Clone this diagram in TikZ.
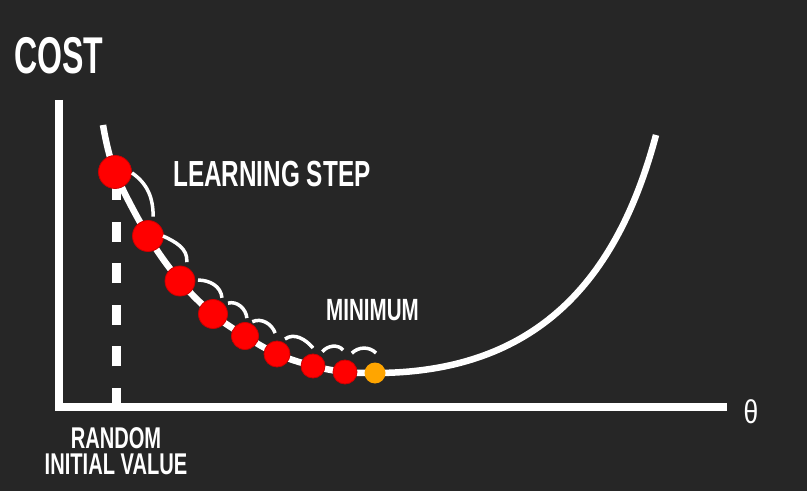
\documentclass[tikz,border=0pt]{standalone}
\usepackage{fontspec}
\usetikzlibrary{calc}
\newfontfamily\labelfont{Liberation Sans}[FakeStretch=0.67]
\newfontfamily\costfont{Liberation Sans}[FakeStretch=0.62]
\newfontfamily\thetafont{Liberation Sans}[FakeStretch=0.8]
\definecolor{boardgray}{RGB}{38,38,38}
\definecolor{stepred}{RGB}{255,0,0}
\definecolor{stepedge}{RGB}{205,0,0}
\definecolor{minorange}{RGB}{255,165,0}
\tikzset{
    axisline/.style={draw=white, line width=8pt},
    costcurve/.style={draw=white, line width=6.5pt},
    initline/.style={draw=white, line width=9pt, dash pattern=on 20pt off 21.6pt},
    stepdot/.style={circle, fill=stepred, draw=stepedge, line width=0.8pt, inner sep=0pt},
    mindot/.style={circle, fill=minorange, inner sep=0pt},
    jump/.style={draw=white, line width=3.5pt},
    caption/.style={text=white, inner sep=0pt, font=\labelfont\bfseries\fontsize{30.7}{30.7}\selectfont}
}

\begin{document}
\begin{tikzpicture}[x=1pt, y=1pt]
    \useasboundingbox (0,0) rectangle (807,491);
    \fill[boardgray] (0,0) rectangle (807,491);

    % axes and the starting guess
    \draw[axisline] (59,391) -- (59,84) -- (727,84);
    \draw[initline] (116.7,83) -- (116.7,311);

    % cost function
    \draw[costcurve] plot[smooth, tension=0.6] coordinates {(103,366) (115,319) (148,255) (180,210) (213,177) (245,155) (277,137) (313,125) (345,119) (375,118)}
        .. controls (545,118) and (620,221) .. (656,356);

    % descent steps
    \node[stepdot, minimum size=33pt] (c1) at (115,319) {};
    \node[stepdot, minimum size=31pt] (c2) at (148,255) {};
    \node[stepdot, minimum size=30pt] (c3) at (180,210) {};
    \node[stepdot, minimum size=29pt] (c4) at (213,177) {};
    \node[stepdot, minimum size=27pt] (c5) at (245,155) {};
    \node[stepdot, minimum size=26pt] (c6) at (277,137) {};
    \node[stepdot, minimum size=24pt] (c7) at (313,125) {};
    \node[stepdot, minimum size=24pt] (c8) at (345,119) {};
    \node[mindot, minimum size=21pt] (cmin) at (375,118) {};

    \draw[jump] ($(c1)+(-3:17)$) to[out=-35, in=90] ($(c2)+(75:20)$);
    \draw[jump] ($(c2)+(0:15)$) to[out=-25, in=85] ($(c3)+(70:20)$);
    \draw[jump] ($(c3)+(3:18)$) to[out=0, in=95] ($(c4)+(61:18.5)$);
    \draw[jump] ($(c4)+(36:18.5)$) to[out=15, in=95] ($(c5)+(84:18)$);
    \draw[jump] ($(c5)+(63:16)$) to[out=25, in=110] ($(c6)+(95:21)$);
    \draw[jump] ($(c6)+(62:17)$) to[out=35, in=130] ($(c7)+(90:18)$);
    \draw[jump] ($(c7)+(57:17)$) to[out=50, in=130] ($(c8)+(95:22)$);
    \draw[jump] ($(c8)+(70:20)$) to[out=45, in=135] ($(cmin)+(87:20)$);

    % labels
    \node[caption, font=\costfont\bfseries\fontsize{51.7}{51.7}\selectfont, anchor=base west] (cost) at (14,417) {COST};
    \node[caption, font=\labelfont\bfseries\fontsize{36.3}{36.3}\selectfont, anchor=base west] (step) at (173,304) {LEARNING STEP};
    \node[caption, anchor=base west] (minimum) at (326,171) {MINIMUM};
    \node[caption, font=\labelfont\bfseries\fontsize{30}{26.5}\selectfont, align=center, anchor=north] (initval) at (116,64) {RANDOM\\INITIAL VALUE};
    \node[text=white, inner sep=0pt, anchor=base, font=\thetafont\fontsize{33}{33}\selectfont] (theta) at (751,68) {θ};
\end{tikzpicture}
\end{document}
